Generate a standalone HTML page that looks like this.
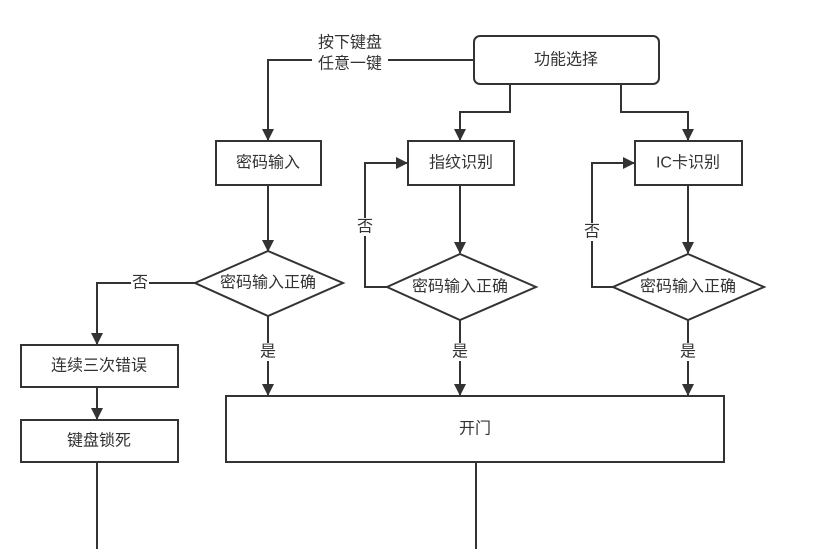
<!DOCTYPE html>
<html><head><meta charset="utf-8"><style>
body{margin:0;background:#fff}
svg text{font-family:"Liberation Sans","Noto Sans CJK SC",sans-serif;font-size:16px;fill:#333;text-anchor:middle;dominant-baseline:central}
</style></head><body>
<svg width="819" height="549" viewBox="0 0 819 549" xmlns="http://www.w3.org/2000/svg">
<defs><marker id="a" markerWidth="12" markerHeight="12" refX="11" refY="6" orient="auto" markerUnits="userSpaceOnUse"><path d="M0,0 L12,6 L0,12 Z" fill="#333"/></marker></defs>
<g stroke="#333" stroke-width="2" fill="none">
<rect x="474" y="36" width="185" height="48" rx="6" fill="#fff"/>
<path d="M474,60 H268 V140" marker-end="url(#a)"/>
<path d="M510,84 V112 H460 V140" marker-end="url(#a)"/>
<path d="M621,84 V112 H688 V140" marker-end="url(#a)"/>
<rect x="216" y="141" width="105" height="44" fill="#fff"/>
<rect x="408" y="141" width="106" height="44" fill="#fff"/>
<rect x="635" y="141" width="107" height="44" fill="#fff"/>
<path d="M268,185 V251" marker-end="url(#a)"/>
<path d="M460,185 V253" marker-end="url(#a)"/>
<path d="M688,185 V253" marker-end="url(#a)"/>
<polygon points="268,251 343,283 268,316 195,283" fill="#fff"/>
<polygon points="460,254 536,287 460,320 387,287" fill="#fff"/>
<polygon points="688,254 764,287 688,320 613,287" fill="#fff"/>
<path d="M387,287 H365 V163 H407" marker-end="url(#a)"/>
<path d="M613,287 H592 V163 H634" marker-end="url(#a)"/>
<path d="M195,283 H97 V344" marker-end="url(#a)"/>
<path d="M268,316 V395" marker-end="url(#a)"/>
<path d="M460,320 V395" marker-end="url(#a)"/>
<path d="M688,320 V395" marker-end="url(#a)"/>
<rect x="21" y="345" width="157" height="42" fill="#fff"/>
<path d="M97,387 V419" marker-end="url(#a)"/>
<rect x="21" y="420" width="157" height="42" fill="#fff"/>
<path d="M97,462 V549"/>
<rect x="226" y="396" width="498" height="66" fill="#fff"/>
<path d="M476,462 V549"/>
</g>
<rect x="312" y="32" width="76" height="42" fill="#fff"/>
<text x="350" y="43">按下键盘</text>
<text x="350" y="64">任意一键</text>
<text x="566" y="60">功能选择</text>
<text x="268" y="163">密码输入</text>
<text x="461" y="163">指纹识别</text>
<text x="688" y="163">IC卡识别</text>
<text x="268" y="283">密码输入正确</text>
<text x="460" y="287">密码输入正确</text>
<text x="688" y="287">密码输入正确</text>
<rect x="356" y="218" width="18" height="18" fill="#fff"/><text x="365" y="227">否</text>
<rect x="583" y="223" width="18" height="18" fill="#fff"/><text x="592" y="232">否</text>
<rect x="131" y="274" width="18" height="18" fill="#fff"/><text x="140" y="283">否</text>
<rect x="259" y="343" width="18" height="18" fill="#fff"/><text x="268" y="352">是</text>
<rect x="451" y="343" width="18" height="18" fill="#fff"/><text x="460" y="352">是</text>
<rect x="679" y="343" width="18" height="18" fill="#fff"/><text x="688" y="352">是</text>
<text x="99" y="366">连续三次错误</text>
<text x="99" y="441">键盘锁死</text>
<text x="475" y="429">开门</text>
</svg>
</body></html>
